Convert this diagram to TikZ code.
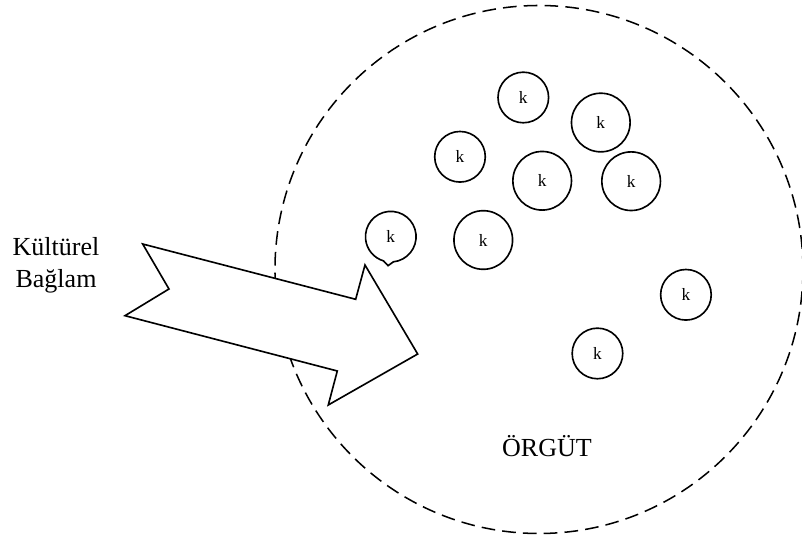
\documentclass[tikz,border=0pt]{standalone}
\usepackage{fontspec}
\setmainfont{Liberation Serif}
\usetikzlibrary{calc}

\begin{document}
\begin{tikzpicture}[
        kcirc/.style={circle, draw, line width=0.75, inner sep=0pt, minimum size=0.82cm, font=\fontsize{8}{9.6}\selectfont},
        kbig/.style={kcirc, minimum size=0.95cm}
    ]
            \useasboundingbox (-8.736,-4.335) rectangle (4.263,4.368);
            \draw[line width=0.7, dash pattern=on 6.3pt off 3.3pt] (4.279,0) arc[start angle=0, end angle=360, radius=4.279];
            \draw[line width=0.75, fill=white] (-6.423,0.413) -- (-2.971,-0.483) -- (-2.820,0.073) -- (-1.966,-1.370) -- (-3.415,-2.196) -- (-3.269,-1.645) -- (-6.710,-0.749) -- (-5.997,-0.316) -- cycle;

            \node[kcirc] (k1) at (-0.254,2.788) {k};
            \node[kbig] (k2) at (1.002,2.382) {k};
            \node[kcirc] (k3) at (-1.280,1.827) {k};
            \node[kbig] (k4) at (0.052,1.438) {k};
            \node[kbig] (k5) at (1.494,1.431) {k};
            \node[kbig] (k7) at (-0.903,0.478) {k};
            \node[kcirc] (k8) at (2.382,-0.410) {k};
            \node[kcirc] (k9) at (0.948,-1.361) {k};
            \node[inner sep=0pt, font=\fontsize{8}{9.6}\selectfont] (k6) at (-2.402,0.532) {k};
            \draw[line width=0.75] ($(k6.center)+(-84:0.41)$) arc[start angle=-84, end angle=253.3, radius=0.41] -- ($(k6.center)+(-0.044,-0.47)$) -- cycle;

            \node[anchor=north, align=center, inner sep=0pt, font=\fontsize{12}{14.6}\selectfont] (baglam) at (-7.828,0.523) {Kültürel\\Bağlam};
            \node[anchor=base, inner sep=0pt, font=\fontsize{12}{14.4}\selectfont] (orgut) at (0.13,-3.034) {ÖRGÜT};
        \end{tikzpicture}
\end{document}
